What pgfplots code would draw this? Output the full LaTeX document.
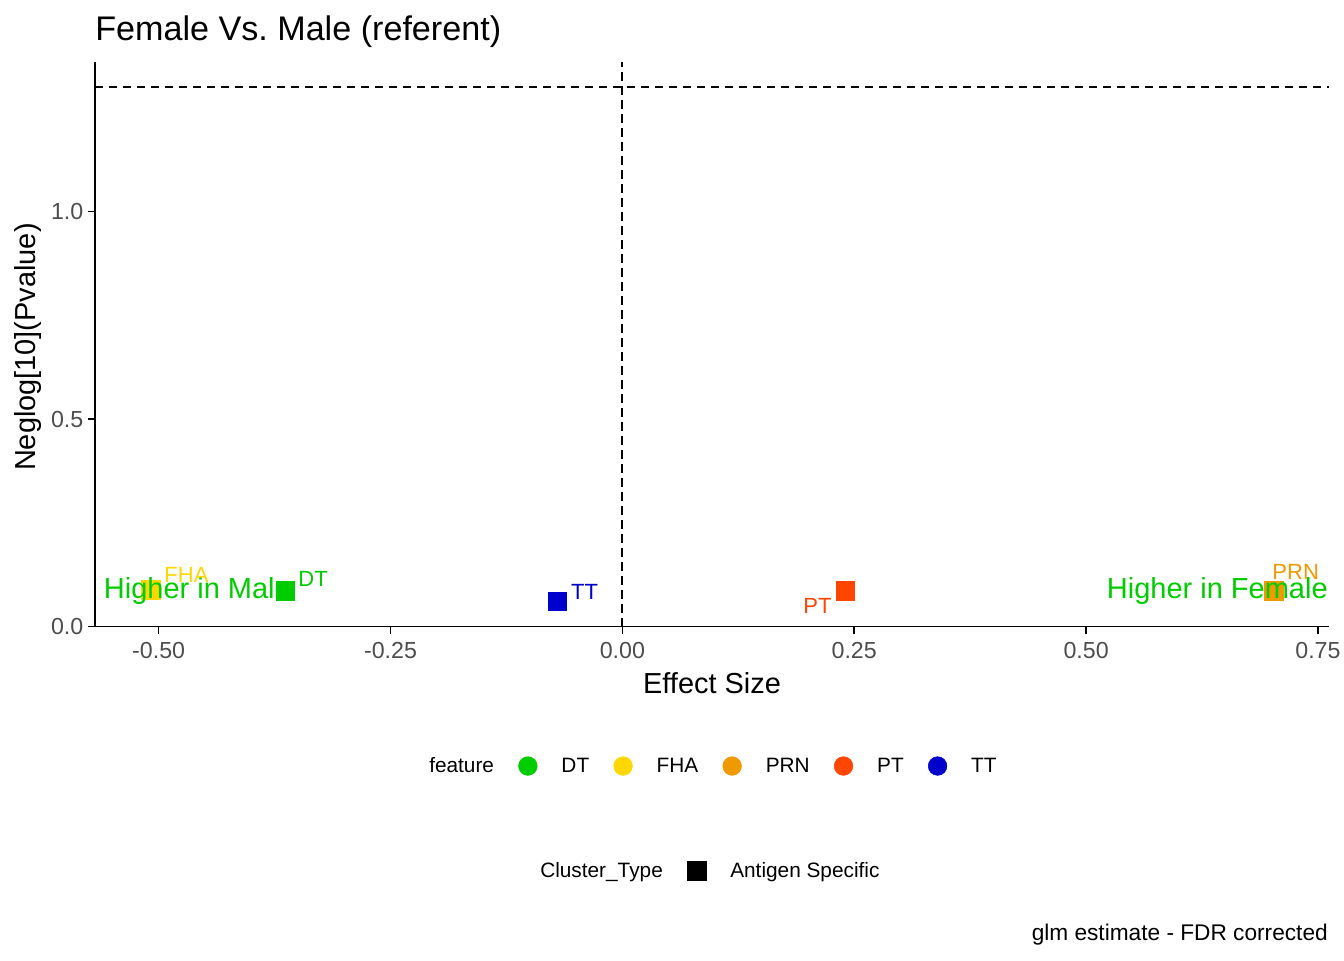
\documentclass[border=0pt]{standalone}
\usepackage{pgfplots}
\pgfplotsset{compat=1.18}
\usepackage{fontspec}
\setmainfont{Liberation Sans}
\definecolor{cDT}{HTML}{00CD00}
\definecolor{cFHA}{HTML}{FFD700}
\definecolor{cPRN}{HTML}{EE9A00}
\definecolor{cPT}{HTML}{FF4500}
\definecolor{cTT}{HTML}{0000CD}
\definecolor{gray30}{HTML}{4D4D4D}
\begin{document}
\begin{tikzpicture}[x=1pt,y=1pt]
\path[use as bounding box] (0,0) rectangle (1008,720);
\begin{axis}[
  at={(71.25pt,250.1pt)}, anchor=south west,
  scale only axis, width=925.2pt, height=423.4pt,
  xmin=-0.5686, xmax=0.7615, ymin=0, ymax=1.361,
  axis x line=bottom, axis y line=left,
  axis line style={-, line width=1.4pt, black},
  tick align=outside, major tick length=5.25pt,
  tick style={black, line width=1.1pt},
  xtick={-0.5,-0.25,0,0.25,0.5,0.75},
  xticklabels={-0.50,-0.25,0.00,0.25,0.50,0.75},
  ytick={0,0.5,1}, yticklabels={0.0,0.5,1.0},
  ticklabel style={font=\fontsize{17.4}{20}\selectfont, text=gray30},
  xticklabel style={yshift=-3pt},
  xlabel={Effect Size},
  xlabel style={at={(axis description cs:0.5002,-0.1001)}, anchor=center, font=\fontsize{21.7}{26}\selectfont},
  ylabel={Neglog[10](Pvalue)},
  ylabel style={at={(axis description cs:-0.0543,0.495)}, anchor=center, font=\fontsize{21.7}{26}\selectfont},
  clip=false,
  legend columns=-1,
  legend style={at={(0.2513,-0.2471)}, anchor=west, draw=none, fill=none, inner sep=0pt,
    font=\fontsize{15.6}{18}\selectfont,
    /tikz/every odd column/.append style={column sep=16pt},
    /tikz/every even column/.append style={column sep=16.2pt}},
  legend image code/.code={\fill[#1] (0pt,0pt) circle (7pt);},
]
% reference lines
\addplot[black, line width=1.5pt, dash pattern=on 6.25pt off 4.25pt, forget plot] coordinates {(0,0) (0,1.361)};
\addplot[black, line width=1.5pt, dash pattern=on 6.25pt off 4.25pt, forget plot] coordinates {(-0.5686,1.30103) (0.7615,1.30103)};
% points (Antigen Specific)
\addplot[only marks, mark=square*, mark size=7pt, color=cFHA, mark options={draw=none}, forget plot] coordinates {(-0.5085,0.088)};
\addplot[only marks, mark=square*, mark size=7pt, color=cDT, mark options={draw=none}, forget plot] coordinates {(-0.3633,0.087)};
\addplot[only marks, mark=square*, mark size=7pt, color=cTT, mark options={draw=none}, forget plot] coordinates {(-0.0703,0.061)};
\addplot[only marks, mark=square*, mark size=7pt, color=cPT, mark options={draw=none}, forget plot] coordinates {(0.2403,0.087)};
\addplot[only marks, mark=square*, mark size=7pt, color=cPRN, mark options={draw=none}, forget plot] coordinates {(0.7026,0.087)};
% legend
\addlegendimage{empty legend}\addlegendentry{feature}
\addlegendimage{cDT}\addlegendentry{DT}
\addlegendimage{cFHA}\addlegendentry{FHA}
\addlegendimage{cPRN}\addlegendentry{PRN}
\addlegendimage{cPT}\addlegendentry{PT}
\addlegendimage{cTT}\addlegendentry{TT}
% anchor positions for texts drawn on top
\coordinate (hm) at (axis cs:-0.5593,0.068);
\coordinate (hf) at (axis cs:0.7608,0.068);
\coordinate (lFHA) at (axis cs:-0.470,0.124);
\coordinate (lDT) at (axis cs:-0.3335,0.114);
\coordinate (lTT) at (axis cs:-0.0408,0.084);
\coordinate (lPT) at (axis cs:0.2104,0.050);
\coordinate (lPRN) at (axis cs:0.726,0.132);
\end{axis}
\begin{axis}[
  at={(71.25pt,250.1pt)}, anchor=south west,
  scale only axis, width=925.2pt, height=423.4pt,
  xmin=-0.5686, xmax=0.7615, ymin=0, ymax=1.361,
  hide axis,
  legend columns=-1,
  legend style={at={(0.3413,-0.4331)}, anchor=west, draw=none, fill=none, inner sep=0pt,
    font=\fontsize{15.6}{18}\selectfont,
    /tikz/every odd column/.append style={column sep=16pt},
    /tikz/every even column/.append style={column sep=16.2pt}},
]
\addplot[draw=none, forget plot] coordinates {(0,0.5)};
\addlegendimage{empty legend}\addlegendentry{Cluster\_Type}
\addlegendimage{legend image code/.code={\fill[black] (-7pt,-7pt) rectangle (7pt,7pt);}}\addlegendentry{Antigen Specific}
\end{axis}
% annotations (on top of the points)
\node[anchor=base west, inner sep=0pt, text=cDT, font=\fontsize{21.75}{26}\selectfont] at (hm) {Higher in Male};
\node[anchor=base east, inner sep=0pt, text=cDT, font=\fontsize{21.75}{26}\selectfont] at (hf) {Higher in Female};
\node[inner sep=0pt, text=cFHA, font=\fontsize{16.5}{20}\selectfont] at (lFHA) {FHA};
\node[inner sep=0pt, text=cDT, font=\fontsize{16.5}{20}\selectfont] at (lDT) {DT};
\node[inner sep=0pt, text=cTT, font=\fontsize{16.5}{20}\selectfont] at (lTT) {TT};
\node[inner sep=0pt, text=cPT, font=\fontsize{16.5}{20}\selectfont] at (lPT) {PT};
\node[inner sep=0pt, text=cPRN, font=\fontsize{16.5}{20}\selectfont] at (lPRN) {PRN};
\node[anchor=base west, inner sep=0pt, font=\fontsize{25.6}{30}\selectfont] at (71.25,689.25) {Female Vs.\ Male (referent)};
\node[anchor=base east, inner sep=0pt, font=\fontsize{17}{20}\selectfont] at (996,15) {glm estimate - FDR corrected};
\end{tikzpicture}
\end{document}
